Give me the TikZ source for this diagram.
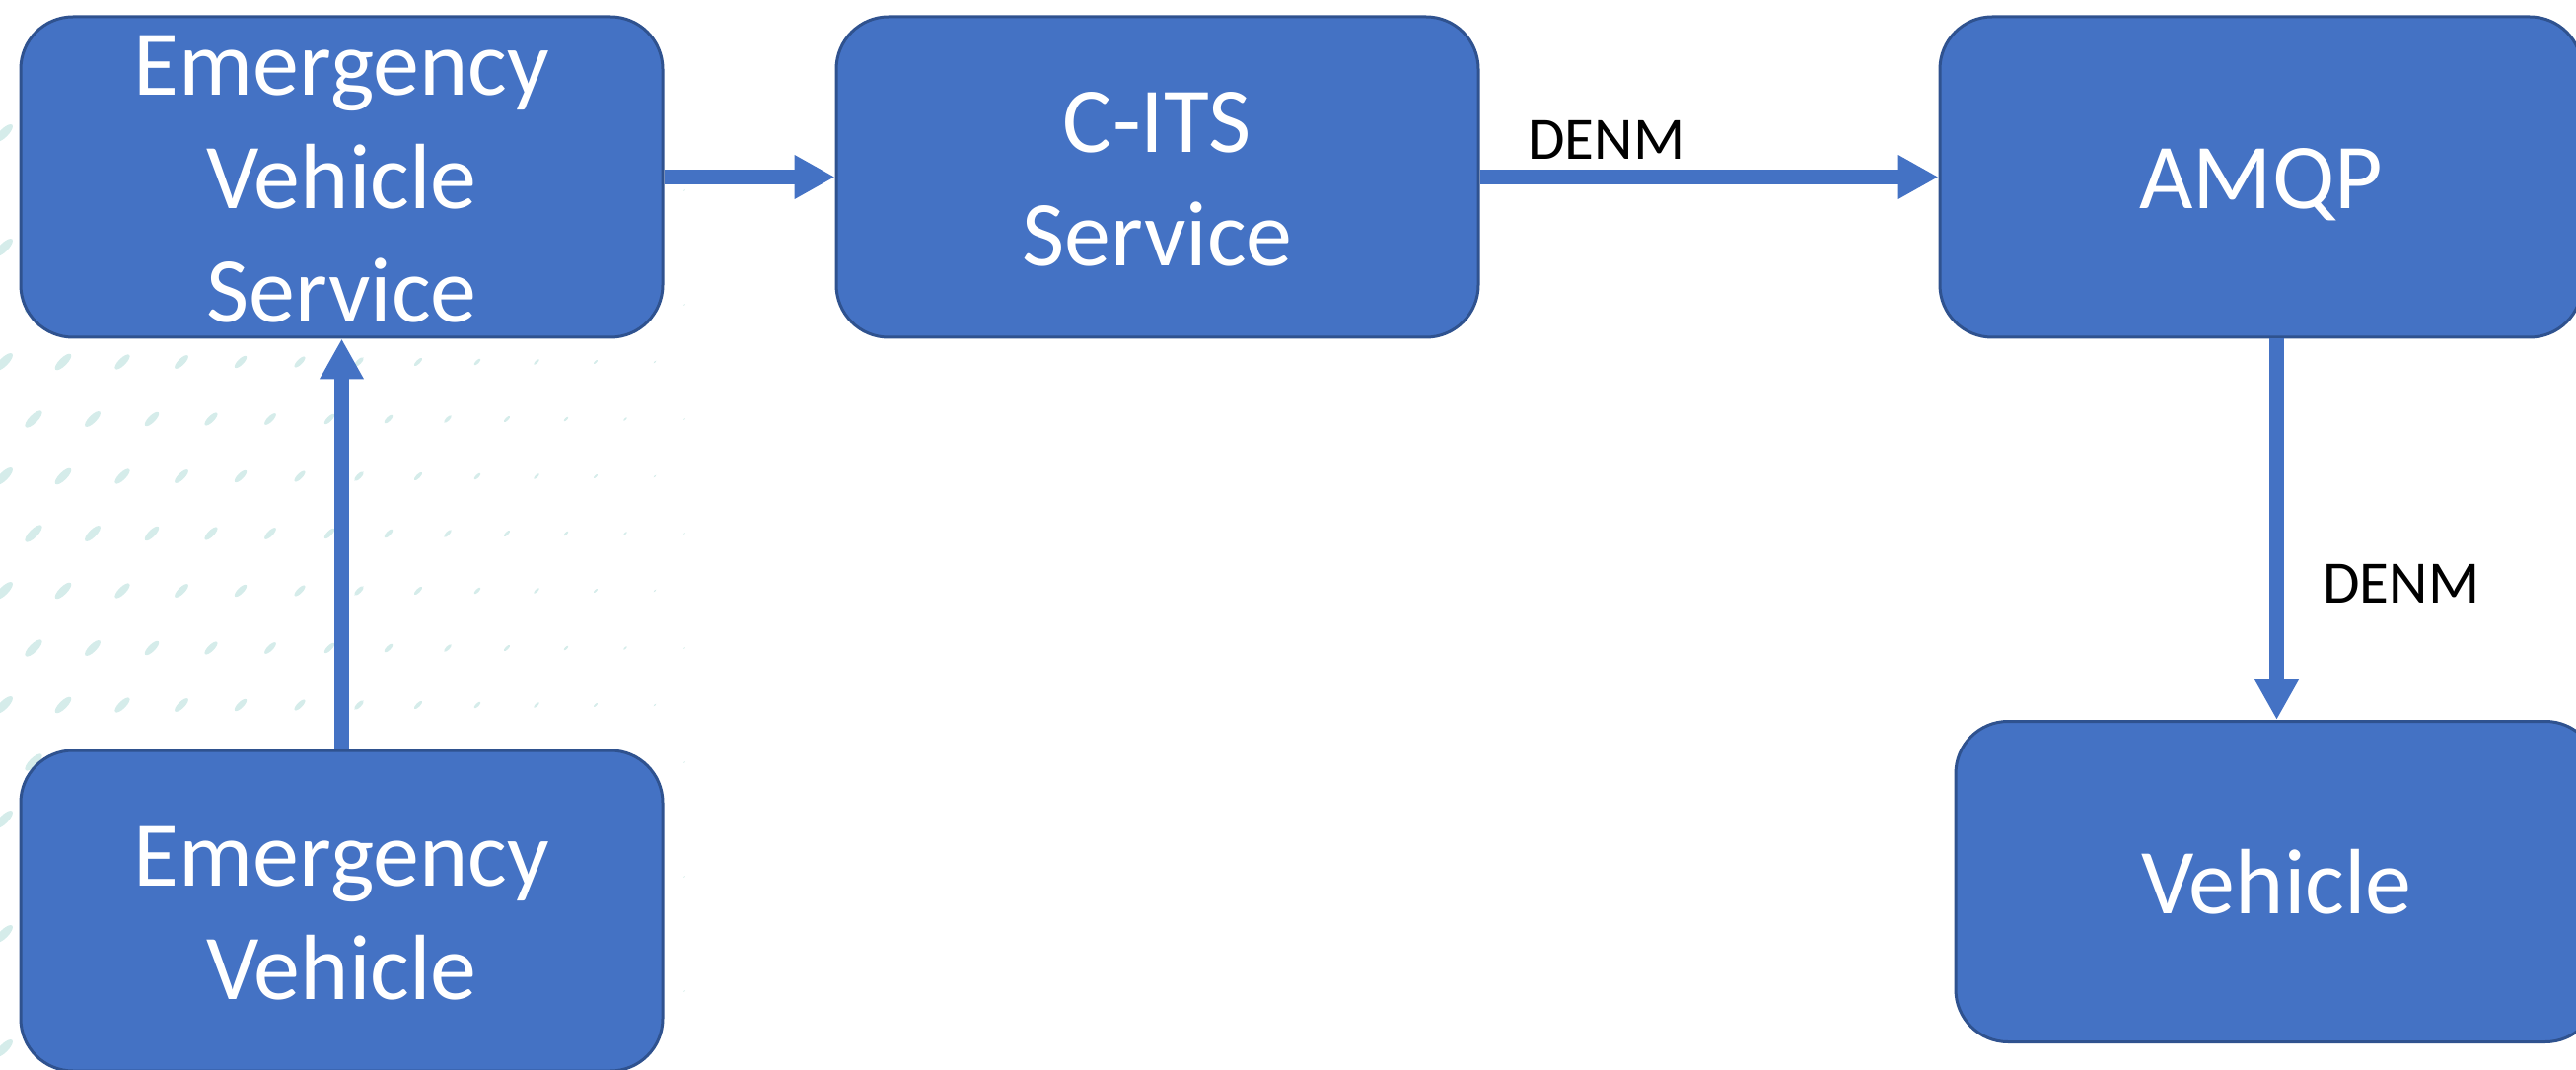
\documentclass[tikz,border=0pt]{standalone}
\usepackage{fontspec}
\setmainfont{Carlito}
\usetikzlibrary{arrows.meta}
\definecolor{boxfill}{HTML}{4472C4}
\definecolor{boxline}{HTML}{2F528F}
\definecolor{dotteal}{HTML}{D5ECEA}
% fixed first-line height so every block centres its text the same way
\newcommand\capstrut{\rule{0pt}{32.5pt}}
\begin{document}
\begin{tikzpicture}[x=0.5pt,y=-0.5pt,
  block/.style={draw=boxline, line width=1.5pt, fill=boxfill,
    rounded corners=26.5pt, minimum width=325.5pt, minimum height=162.5pt,
    text=white, align=center, inner sep=0pt,
    font=\fontsize{47}{57.5}\selectfont},
  flow/.style={draw=boxfill, line width=7.5pt,
    -{Triangle[width=21pt,length=20.5pt]}},
  msg/.style={font=\fontsize{30.5}{36}\selectfont, text=black, inner sep=0pt}]
\useasboundingbox (0,0) rectangle (2612,1085);

% faint speckled backdrop on the left
\foreach \r in {0,...,16} {
  \foreach \c in {0,...,13} {
    \pgfmathsetmacro{\px}{4 + \c*60 + mod(\r,2)*30}
    \pgfmathsetmacro{\py}{135 + \r*58}
    \pgfmathsetmacro{\s}{max(0, 1 - \px/780)}
    \ifdim\s pt>0.1pt
      \fill[dotteal, rotate around={45:(\px,\py)}]
        (\px,\py) ellipse [x radius=\s*6pt, y radius=\s*2.2pt];
    \fi
  }
}

% blocks
\node[block] (evs)  at (346.5,179.5)  {\capstrut Emergency\\Vehicle\\Service};
\node[block] (cits) at (1173.5,179.5) {\capstrut C-ITS\\Service};
\node[block, text depth=0pt] (amqp) at (2292.5,179.5) {\capstrut AMQP};
\node[block] (ev)   at (346.5,923.5)  {\capstrut Emergency\\Vehicle};
\node[block] (veh)  at (2308.5,894)   {\capstrut Vehicle};

% message flow
\draw[flow] (evs.east) -- (cits.west);
\draw[flow] (cits.east) -- (amqp.west);
\draw[flow] (ev.north) -- (evs.south);
\draw[flow] (amqp.south -| veh.north) -- (veh.north);

% message labels
\node[msg, anchor=base west] (denmA) at (1549,162) {DENM};
\node[msg, anchor=base west] (denmB) at (2355,611) {DENM};
\end{tikzpicture}
\end{document}
